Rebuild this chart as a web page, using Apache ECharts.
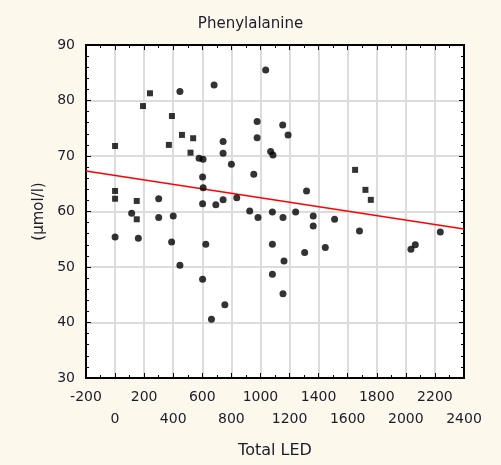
<!DOCTYPE html>
<html><head><meta charset="utf-8">
<script src="https://cdn.jsdelivr.net/npm/echarts@6/dist/echarts.min.js"></script>
<style>html,body{margin:0;padding:0;background:#fdf8ec;}#c{width:501px;height:465px;}</style>
</head><body><div id="c"></div>
<script>
var titleText = 'Phenylalanine';
var xName = 'Total LED';
var yName = '(\u00b5mol/l)';
var xMin = -200, xMax = 2400, xStep = 200;
var yMin = 30, yMax = 90, yStep = 10;

// square markers
var squareX = [0, 192, 240, 391, 370, 460, 537, 519, 0, 0, 149, 149, 1651, 1722, 1759];
var squareY = [71.8, 79.0, 81.3, 77.2, 72.0, 73.8, 73.2, 70.6, 63.7, 62.3, 61.9, 58.6, 67.5, 63.9, 62.1];

// round markers
var dotX = [446, 681, 578, 605, 602, 606, 300, 602, 693, 114, 300, 400, 0, 160, 389, 624, 446, 602, 663,
            1036, 977, 1153, 1190, 743, 977, 743, 1070, 1086, 800, 954, 1317, 743, 837, 926, 983, 1082,
            1155, 1242, 1363, 1363, 1510, 1082, 1304, 1446, 1162, 1082, 1155, 755, 1681, 2035, 2065, 2237];
var dotY = [81.6, 82.8, 69.6, 69.4, 66.2, 64.3, 62.3, 61.4, 61.2, 59.7, 58.9, 59.2, 55.4, 55.2, 54.5, 54.1, 50.3, 47.8, 40.6,
            85.5, 76.2, 75.6, 73.8, 72.6, 73.3, 70.5, 70.8, 70.2, 68.5, 66.7, 63.7, 62.1, 62.5, 60.1, 58.9, 59.9,
            58.9, 59.9, 59.2, 57.4, 58.6, 54.1, 52.6, 53.5, 51.1, 48.7, 45.2, 43.2, 56.5, 53.2, 54.0, 56.3];

// fitted line end points
var fitX = [-200, 2400];
var fitY = [67.3, 56.85];

function zip(a, b) { return a.map(function (v, i) { return [v, b[i]]; }); }
function rowLabel(parity) {
  return function (v) {
    var k = Math.round((v - xMin) / xStep);
    return k % 2 === parity ? String(v) : '';
  };
}

var font = '"DejaVu Sans", Verdana, sans-serif';
var txt = '#1c1c2c';
var blackTick = { show: true, inside: true, length: 5, lineStyle: { color: '#000' } };

var chart = echarts.init(document.getElementById('c'));
chart.setOption({
  backgroundColor: '#fdf8ec',
  animation: false,
  title: {
    text: titleText, left: 'center', top: 12,
    textStyle: { fontFamily: font, fontSize: 15, fontWeight: 'normal', color: txt }
  },
  grid: {
    left: 86, right: 37, top: 45, bottom: 87,
    show: true, backgroundColor: '#ffffff', borderColor: '#000', borderWidth: 1.5
  },
  xAxis: [{
    type: 'value', min: xMin, max: xMax, interval: xStep,
    name: xName, nameLocation: 'middle', nameGap: 65,
    nameTextStyle: { fontFamily: font, fontSize: 16, color: txt },
    axisLine: { show: true, onZero: false, lineStyle: { color: '#000', width: 2 } },
    axisTick: blackTick,
    minorTick: { show: true, splitNumber: 2, length: 3, lineStyle: { color: '#000' } },
    splitLine: { show: true, lineStyle: { color: '#dcdcdc', width: 2 } },
    axisLabel: {
      margin: 12, fontFamily: font, fontSize: 14, color: txt,
      showMinLabel: true, showMaxLabel: true, formatter: rowLabel(0)
    }
  }, {
    type: 'value', position: 'top', min: xMin, max: xMax, interval: xStep,
    axisLine: { show: true, onZero: false, lineStyle: { color: '#000', width: 2 } },
    axisTick: blackTick,
    minorTick: { show: true, splitNumber: 2, length: 3, lineStyle: { color: '#000' } },
    splitLine: { show: false }, axisLabel: { show: false }
  }, {
    type: 'value', position: 'bottom', min: xMin, max: xMax, interval: xStep,
    axisLine: { show: false, onZero: false }, axisTick: { show: false },
    splitLine: { show: false },
    axisLabel: {
      margin: 34, fontFamily: font, fontSize: 14, color: txt,
      showMinLabel: true, showMaxLabel: true, formatter: rowLabel(1)
    }
  }],
  yAxis: [{
    type: 'value', min: yMin, max: yMax, interval: yStep,
    name: yName, nameLocation: 'middle', nameGap: 37, nameRotate: 90,
    nameTextStyle: { fontFamily: font, fontSize: 15, color: txt },
    axisLine: { show: true, onZero: false, lineStyle: { color: '#000', width: 2 } },
    axisTick: blackTick,
    minorTick: { show: true, splitNumber: 5, length: 3, lineStyle: { color: '#000' } },
    splitLine: { show: true, lineStyle: { color: '#dcdcdc', width: 2 } },
    axisLabel: { margin: 11, fontFamily: font, fontSize: 14, color: txt }
  }, {
    type: 'value', position: 'right', min: yMin, max: yMax, interval: yStep,
    axisLine: { show: true, onZero: false, lineStyle: { color: '#000', width: 2 } },
    axisTick: blackTick,
    minorTick: { show: true, splitNumber: 5, length: 3, lineStyle: { color: '#000' } },
    splitLine: { show: false }, axisLabel: { show: false }
  }],
  series: [{
    type: 'line', data: zip(fitX, fitY), symbol: 'none', z: 3,
    lineStyle: { color: '#ff0000', width: 1.5 }
  }, {
    type: 'scatter', data: zip(squareX, squareY), symbol: 'rect', symbolSize: 6, z: 4,
    itemStyle: { color: '#000' }
  }, {
    type: 'scatter', data: zip(dotX, dotY), symbol: 'circle', symbolSize: 7, z: 4,
    itemStyle: { color: '#000' }
  }]
});
</script></body></html>
